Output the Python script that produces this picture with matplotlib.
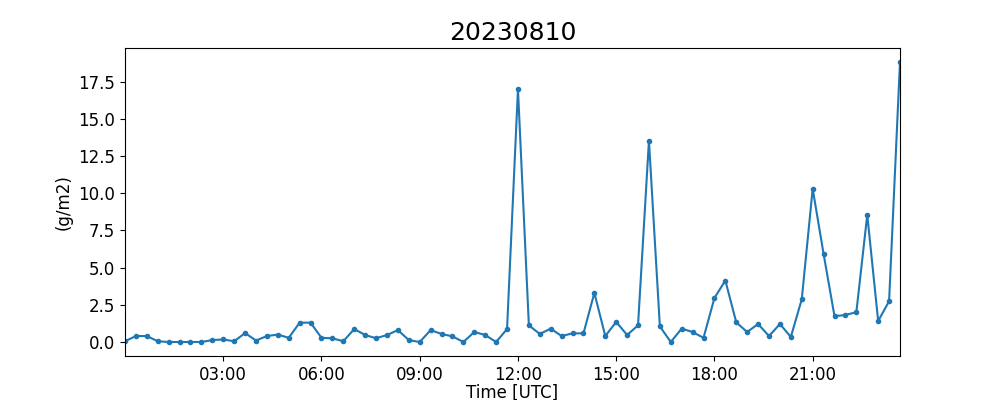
import matplotlib
matplotlib.use("Agg")
import matplotlib.pyplot as plt
import matplotlib.dates as mdates
import pandas as pd

# Observation date and 20-minute sampling times
DATE = "20230810"
times = pd.date_range("2023-08-10 00:00", periods=72, freq="20min")

# Values (g/m2)
values = [
    0.05, 0.40, 0.40, 0.05, 0.00, 0.00, 0.00, 0.00, 0.13, 0.17, 0.05, 0.60,
    0.10, 0.40, 0.50, 0.28, 1.30, 1.30, 0.28, 0.25, 0.05, 0.87, 0.47, 0.25,
    0.47, 0.80, 0.13, 0.00, 0.80, 0.54, 0.38, 0.00, 0.67, 0.47, 0.00, 0.87,
    17.00, 1.12, 0.54, 0.90, 0.40, 0.58, 0.58, 3.30, 0.40, 1.35, 0.47, 1.12,
    13.53, 1.05, 0.00, 0.90, 0.67, 0.28, 2.96, 4.13, 1.32, 0.67, 1.21, 0.40,
    1.21, 0.34, 2.87, 10.30, 5.92, 1.73, 1.82, 2.00, 8.55, 1.41, 2.74, 18.82,
]

fig, ax = plt.subplots(figsize=(10, 4), dpi=100)
ax.plot(times, values, marker='.', color='tab:blue')

ax.set_xlim(times[0], times[-1])
ax.xaxis.set_major_locator(mdates.HourLocator(byhour=range(3, 24, 3)))
ax.xaxis.set_major_formatter(mdates.DateFormatter('%H:%M'))

ax.set_title(DATE, fontsize=18)
ax.set_xlabel("Time [UTC]", fontsize=12, labelpad=0)
ax.set_ylabel("(g/m2)", fontsize=12)
ax.tick_params(labelsize=12)

plt.savefig("out.png", dpi=100)
